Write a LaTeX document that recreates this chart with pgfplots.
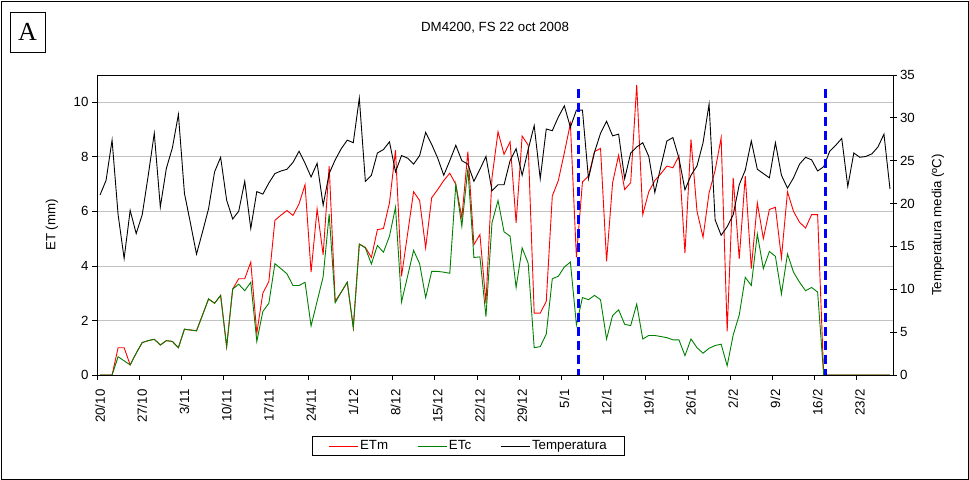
\documentclass[border=0pt]{standalone}
\usepackage{pgfplots}
\pgfplotsset{compat=1.18}
\usepackage{pgfplotstable}
\usepackage{fontspec}
\setmainfont{Liberation Sans}
\newfontfamily\serifA{Liberation Serif}
\definecolor{xlgreen}{RGB}{0,128,0}

\pgfplotstableread{
i etm etc temp
0 0 0 21.0
1 0 0 22.7
2 0 0 27.4
3 1.00 0.67 18.7
4 1.00 0.52 13.6
5 0.37 0.37 19.2
6 0.80 0.80 16.5
7 1.19 1.19 18.7
8 1.26 1.26 23.3
9 1.31 1.31 28.2
10 1.10 1.10 19.6
11 1.26 1.26 24.1
12 1.23 1.23 26.5
13 1.00 1.00 30.4
14 1.68 1.68 21.2
15 1.65 1.65 17.7
16 1.62 1.62 14.1
17 2.20 2.20 16.7
18 2.79 2.79 19.4
19 2.63 2.63 23.7
20 2.92 2.92 25.4
21 1.04 1.04 20.4
22 3.15 3.15 18.2
23 3.53 3.33 19.1
24 3.53 3.09 22.6
25 4.14 3.40 17.1
26 1.53 1.23 21.4
27 3.00 2.33 21.1
28 3.43 2.63 22.4
29 5.67 4.08 23.5
30 5.86 3.90 23.8
31 6.03 3.71 24.0
32 5.85 3.28 24.8
33 6.27 3.28 26.1
34 6.98 3.40 24.7
35 3.77 1.80 23.1
36 6.09 2.70 24.7
37 4.41 3.60 19.8
38 7.66 5.90 23.5
39 2.70 2.65 25.1
40 3.04 3.04 26.4
41 3.40 3.40 27.4
42 1.74 1.74 27.1
43 4.80 4.80 32.3
44 4.68 4.66 22.6
45 4.31 4.07 23.3
46 5.33 4.75 25.9
47 5.37 4.50 26.3
48 6.31 5.09 27.2
49 8.24 6.15 23.7
50 3.62 2.68 25.6
51 5.17 3.62 25.3
52 6.72 4.57 24.6
53 6.40 4.08 25.6
54 4.66 2.84 28.3
55 6.50 3.80 26.9
56 6.80 3.80 25.3
57 7.13 3.77 23.3
58 7.40 3.73 25.0
59 6.99 6.99 26.8
60 5.76 5.45 25.0
61 8.19 7.57 24.6
62 4.78 4.31 22.6
63 5.15 4.33 24.0
64 2.63 2.14 25.5
65 7.23 5.58 21.5
66 8.92 6.40 22.2
67 8.09 5.25 22.2
68 8.55 5.09 25.0
69 5.58 3.21 26.4
70 8.76 4.66 23.3
71 8.43 4.10 26.3
72 2.27 1.00 29.1
73 2.27 1.04 22.9
74 2.70 1.50 28.7
75 6.56 3.53 28.5
76 7.13 3.62 30.1
77 8.15 3.96 31.4
78 9.22 4.14 28.9
79 4.31 1.84 30.9
80 7.08 2.84 30.9
81 7.29 2.76 22.9
82 8.19 2.92 26.0
83 8.31 2.76 28.2
84 4.17 1.32 29.6
85 7.05 2.18 27.9
86 8.06 2.39 28.1
87 6.80 1.86 22.9
88 7.05 1.81 25.9
89 10.64 2.60 26.6
90 5.88 1.32 27.1
91 6.72 1.45 25.5
92 7.13 1.45 21.3
93 7.38 1.41 24.3
94 7.66 1.37 27.3
95 7.60 1.29 27.7
96 8.03 1.29 25.3
97 4.47 0.71 21.6
98 8.64 1.32 23.3
99 6.00 1.00 24.4
100 5.05 0.80 27.1
101 6.68 0.98 31.6
102 7.50 1.08 18.1
103 8.70 1.13 16.3
104 1.60 0.34 17.3
105 7.23 1.47 18.7
106 4.26 2.20 22.2
107 7.29 3.58 23.9
108 3.90 3.28 27.3
109 6.31 5.17 24.0
110 5.00 3.90 23.5
111 6.07 4.53 23.0
112 6.15 4.35 27.1
113 4.29 2.97 23.3
114 6.72 4.44 21.8
115 6.00 3.77 23.0
116 5.60 3.40 24.6
117 5.39 3.09 25.4
118 5.88 3.21 25.1
119 5.88 3.04 23.8
120 0 0 24.3
121 0 0 26.1
122 0 0 26.8
123 0 0 27.6
124 0 0 22.0
125 0 0 25.9
126 0 0 25.4
127 0 0 25.5
128 0 0 25.8
129 0 0 26.6
130 0 0 28.1
131 0 0 21.7
}\data

\pgfplotsset{/pgf/number format/assume math mode=true}

\begin{document}
\begin{tikzpicture}[font=\fontsize{13.3bp}{16bp}\selectfont]
\useasboundingbox (0,0) rectangle (969bp,480bp);
\draw[line width=0.8bp] (1bp,1bp) rectangle (968bp,479bp);
\draw[line width=0.8bp] (10bp,428bp) rectangle (45bp,468bp);
\node[font=\serifA\fontsize{26bp}{28bp}\selectfont] at (27.5bp,448bp) {A};
\node at (495bp,452bp) {DM4200, FS 22 oct 2008};

\begin{axis}[
  at={(97bp,105bp)}, anchor=south west,
  scale only axis, width=796bp, height=300bp,
  xmin=-0.5, xmax=131.5, ymin=0, ymax=11,
  axis line style={black, line width=0.8bp},
  every tick/.style={black, line width=0.8bp},
  tick align=outside, major tick length=5bp,
  ytick={0,2,...,10}, ytick pos=left,
  ymajorgrids, grid style={black!24, line width=0.8bp},
  xtick={-0.5,6.5,...,125.5}, xticklabels={}, xtick pos=bottom,
  extra x ticks={0,7,...,126},
  extra x tick labels={20/10,27/10,3/11,10/11,17/11,24/11,1/12,8/12,15/12,22/12,29/12,5/1,12/1,19/1,26/1,2/2,9/2,16/2,23/2},
  extra x tick style={major tick length=0pt, xmajorgrids=false,
    tick label style={rotate=90, anchor=east, xshift=-11bp}},
  ylabel={ET (mm)},
  ylabel style={at={(axis description cs:-0.0565,0.5)}, anchor=center},
]
\addplot[red, line width=0.9bp] table[x=i, y=etm] {\data};
\addplot[xlgreen, line width=0.9bp] table[x=i, y=etc] {\data};
\end{axis}

\begin{axis}[
  at={(97bp,105bp)}, anchor=south west,
  scale only axis, width=796bp, height=300bp,
  xmin=-0.5, xmax=131.5, ymin=0, ymax=35,
  axis x line=none, axis y line*=right,
  axis line style={black, line width=0.8bp},
  every tick/.style={black, line width=0.8bp},
  tick align=center, major tick length=7bp,
  ytick={0,5,...,35},
  ylabel={Temperatura media (ºC)},
  ylabel style={at={(axis description cs:1.0565,0.5)}, anchor=center, rotate=0},
  legend columns=3,
  legend style={at={(0.4666,-0.2367)}, anchor=center, draw=black, line width=0.8bp,
    inner xsep=16bp, inner ysep=2.5bp,
    /tikz/every even column/.append style={column sep=27bp}},
  legend image code/.code={\draw[#1] (0bp,0bp) -- (29bp,0bp);},
]
\addlegendimage{red, line width=0.9bp}
\addlegendentry{ETm}
\addlegendimage{xlgreen, line width=0.9bp}
\addlegendentry{ETc}
\addplot[black, line width=0.9bp] table[x=i, y=temp] {\data};
\addlegendentry{Temperatura}
\addplot[blue, line width=2.7bp, dash pattern=on 9.5bp off 4.5bp, forget plot] coordinates {(79.4,33.4) (79.4,0)};
\addplot[blue, line width=2.7bp, dash pattern=on 9.5bp off 4.5bp, forget plot] coordinates {(120.3,33.4) (120.3,0)};
\end{axis}
\end{tikzpicture}
\end{document}
